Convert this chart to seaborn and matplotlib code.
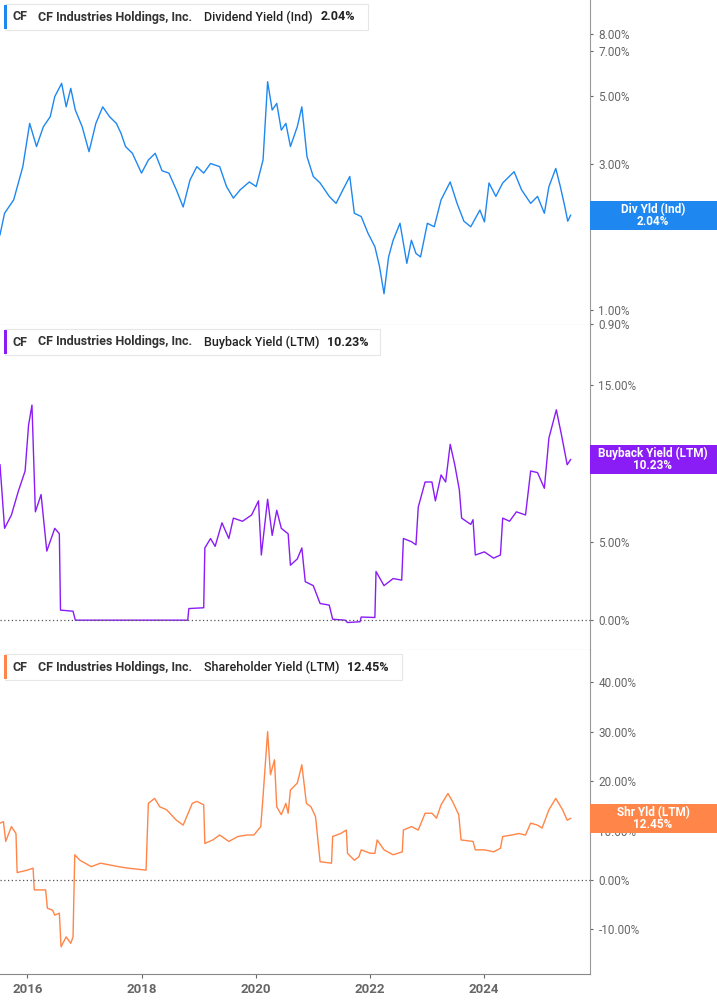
import numpy as np
import pandas as pd
import seaborn as sns
import matplotlib.pyplot as plt
from matplotlib.patches import Rectangle

# Dividend yield (%), log scale panel
div_t = [2015.52, 2015.60, 2015.76, 2015.92, 2016.04, 2016.16, 2016.28, 2016.40, 2016.48, 2016.60,
         2016.68, 2016.76, 2016.84, 2016.96, 2017.08, 2017.20, 2017.32, 2017.44, 2017.56, 2017.64,
         2017.72, 2017.84, 2018.00, 2018.12, 2018.24, 2018.36, 2018.48, 2018.61, 2018.73, 2018.85,
         2018.97, 2019.09, 2019.21, 2019.37, 2019.49, 2019.61, 2019.73, 2019.89, 2020.01, 2020.13,
         2020.21, 2020.29, 2020.37, 2020.45, 2020.53, 2020.61, 2020.73, 2020.81, 2020.90, 2021.01,
         2021.13, 2021.29, 2021.41, 2021.53, 2021.65, 2021.73, 2021.85, 2021.97, 2022.09, 2022.17,
         2022.25, 2022.33, 2022.41, 2022.53, 2022.65, 2022.73, 2022.81, 2022.89, 2023.01, 2023.13,
         2023.25, 2023.41, 2023.53, 2023.65, 2023.77, 2023.93, 2024.01, 2024.09, 2024.21, 2024.33,
         2024.53, 2024.66, 2024.82, 2024.94, 2025.06, 2025.14, 2025.26, 2025.34, 2025.42, 2025.47,
         2025.52]
div_v = [1.76, 2.07, 2.29, 2.94, 4.07, 3.42, 3.97, 4.28, 4.98, 5.50,
         4.61, 5.30, 4.50, 3.97, 3.29, 4.07, 4.61, 4.28, 4.07, 3.78,
         3.42, 3.25, 2.80, 3.09, 3.25, 2.85, 2.80, 2.47, 2.17, 2.66,
         2.94, 2.80, 3.01, 2.94, 2.53, 2.32, 2.47, 2.62, 2.53, 3.09,
         5.57, 4.50, 4.73, 3.87, 4.07, 3.42, 3.97, 4.61, 3.17, 2.73,
         2.60, 2.35, 2.23, 2.47, 2.73, 2.07, 2.02, 1.78, 1.61, 1.39,
         1.13, 1.49, 1.69, 1.92, 1.42, 1.69, 1.53, 1.49, 1.92, 1.87,
         2.29, 2.62, 2.23, 1.95, 1.87, 2.12, 1.94, 2.60, 2.35, 2.60,
         2.83, 2.47, 2.23, 2.35, 2.07, 2.53, 2.90, 2.53, 2.17, 1.95,
         2.04]

# Buyback yield LTM (%)
bb_t = [2015.52, 2015.60, 2015.72, 2015.84, 2015.96, 2016.02, 2016.08, 2016.14, 2016.24, 2016.34,
        2016.48, 2016.56, 2016.58, 2016.80, 2016.84, 2018.81, 2018.83, 2019.09, 2019.11, 2019.21,
        2019.29, 2019.41, 2019.53, 2019.61, 2019.77, 2019.93, 2020.05, 2020.10, 2020.21, 2020.29,
        2020.37, 2020.45, 2020.57, 2020.61, 2020.73, 2020.81, 2020.87, 2021.01, 2021.13, 2021.29,
        2021.35, 2021.57, 2021.61, 2021.83, 2021.85, 2022.09, 2022.11, 2022.25, 2022.41, 2022.56,
        2022.59, 2022.73, 2022.81, 2022.85, 2022.97, 2023.09, 2023.15, 2023.25, 2023.33, 2023.41,
        2023.49, 2023.57, 2023.61, 2023.77, 2023.81, 2023.85, 2024.01, 2024.17, 2024.29, 2024.33,
        2024.45, 2024.57, 2024.73, 2024.82, 2024.94, 2025.06, 2025.14, 2025.27, 2025.36, 2025.46,
        2025.52]
bb_v = [9.9, 5.85, 6.7, 8.2, 9.5, 12.4, 13.7, 6.9, 8.0, 4.4,
        5.85, 5.5, 0.64, 0.57, 0.0, 0.0, 0.74, 0.79, 4.6, 5.2,
        4.7, 6.2, 5.2, 6.5, 6.3, 6.7, 7.6, 4.15, 7.7, 5.4,
        7.0, 5.85, 5.5, 3.5, 3.9, 4.6, 2.45, 2.2, 1.06, 0.96,
        0.06, 0.0, -0.15, -0.1, 0.2, 0.17, 3.1, 2.2, 2.65, 2.55,
        5.2, 5.0, 4.8, 7.2, 8.8, 8.8, 7.6, 9.25, 8.8, 11.2,
        9.9, 8.3, 6.5, 6.1, 6.4, 4.15, 4.35, 3.95, 4.15, 6.5,
        6.3, 6.9, 6.7, 9.5, 9.4, 8.4, 11.6, 13.4, 11.8, 9.9,
        10.23]

# Shareholder yield LTM (%)
sh_t = [2015.52, 2015.58, 2015.62, 2015.72, 2015.80, 2015.82, 2016.00, 2016.10, 2016.12, 2016.32,
        2016.35, 2016.44, 2016.48, 2016.56, 2016.59, 2016.68, 2016.76, 2016.80, 2016.83, 2016.92,
        2017.12, 2017.28, 2017.60, 2017.76, 2018.08, 2018.12, 2018.23, 2018.32, 2018.44, 2018.61,
        2018.73, 2018.89, 2018.97, 2019.09, 2019.11, 2019.25, 2019.37, 2019.53, 2019.69, 2019.85,
        2019.97, 2020.09, 2020.13, 2020.21, 2020.26, 2020.33, 2020.37, 2020.45, 2020.53, 2020.57,
        2020.61, 2020.73, 2020.81, 2020.89, 2020.97, 2021.05, 2021.13, 2021.33, 2021.35, 2021.49,
        2021.59, 2021.61, 2021.73, 2021.81, 2021.85, 2022.01, 2022.09, 2022.13, 2022.25, 2022.41,
        2022.57, 2022.59, 2022.73, 2022.85, 2022.97, 2023.09, 2023.17, 2023.25, 2023.37, 2023.45,
        2023.56, 2023.60, 2023.81, 2023.85, 2024.01, 2024.17, 2024.29, 2024.33, 2024.49, 2024.61,
        2024.73, 2024.82, 2024.94, 2025.02, 2025.14, 2025.26, 2025.38, 2025.46, 2025.52]
sh_v = [11.5, 11.8, 7.8, 10.8, 9.4, 1.5, 2.0, 2.4, -2.0, -2.0,
        -5.7, -6.1, -7.1, -6.7, -13.5, -11.5, -12.8, -11.5, 5.1, 4.0,
        2.7, 3.4, 2.7, 2.4, 2.0, 15.5, 16.5, 14.8, 14.2, 12.1,
        11.1, 15.5, 15.9, 15.2, 7.4, 8.1, 9.1, 7.8, 8.8, 9.1,
        9.1, 10.8, 16.9, 30.0, 21.3, 24.3, 14.8, 13.2, 15.5, 13.5,
        18.2, 19.6, 23.3, 15.5, 14.8, 12.8, 3.7, 3.4, 8.8, 9.4,
        10.1, 5.4, 4.0, 4.7, 6.1, 5.4, 5.4, 8.1, 6.1, 5.1,
        5.7, 10.1, 10.8, 10.1, 13.5, 13.5, 12.5, 15.2, 17.5, 15.9,
        13.2, 8.1, 7.8, 6.1, 6.1, 5.7, 6.4, 8.8, 9.1, 9.4,
        9.1, 11.5, 11.1, 10.5, 14.2, 16.5, 14.2, 12.1, 12.45]

year_ticks = [2016, 2018, 2020, 2022, 2024]

panels = [
    dict(t=div_t, v=div_v, color="#1E88F0", title="Dividend Yield (Ind)", last="2.04%",
         tag="Div Yld (Ind)", log=True, ylim=(0.893, 10.3),
         ticks=[0.9, 1, 2, 3, 5, 7, 8], zero=False),
    dict(t=bb_t, v=bb_v, color="#8A1CF5", title="Buyback Yield (LTM)", last="10.23%",
         tag="Buyback Yield (LTM)", log=False, ylim=(-1.9, 18.8),
         ticks=[0, 5, 10, 15], zero=True),
    dict(t=sh_t, v=sh_v, color="#FF8548", title="Shareholder Yield (LTM)", last="12.45%",
         tag="Shr Yld (LTM)", log=False, ylim=(-19.0, 46.5),
         ticks=[-10, 0, 10, 20, 30, 40], zero=True),
]

W, H = 717, 1005
fig = plt.figure(figsize=(W / 100, H / 100), dpi=100)
plt.rcParams["font.family"] = "Roboto"
grey = "#666666"
bounds = [(0, 325), (325, 650), (650, 974)]

for i, (p, (top, bot)) in enumerate(zip(panels, bounds)):
    ax = fig.add_axes([0, 1 - bot / H, 590 / W, (bot - top) / H])
    df = pd.DataFrame({"t": p["t"], "v": p["v"]})
    sns.lineplot(data=df, x="t", y="v", ax=ax, color=p["color"], linewidth=1.0)
    ax.set_xlim(2015.52, 2025.86)
    if p["log"]:
        ax.set_yscale("log")
    ax.set_ylim(*p["ylim"])
    ax.yaxis.tick_right()
    ax.set_yticks(p["ticks"])
    ax.set_yticklabels([f"{x:.2f}%" for x in p["ticks"]])
    ax.yaxis.set_minor_locator(plt.NullLocator())
    ax.tick_params(axis="y", colors=grey, labelsize=8.5, length=2, width=0.8, pad=4)
    ax.set_xlabel("")
    ax.set_ylabel("")
    for s in ["top", "left"]:
        ax.spines[s].set_visible(False)
    ax.spines["right"].set_color("#999999")
    ax.spines["bottom"].set_color("#bbbbbb")
    if p["zero"]:
        ax.axhline(0, color="#555555", linestyle=(0, (1, 2)), linewidth=0.9)
    if i == 2:
        ax.set_xticks(year_ticks)
        ax.set_xticklabels([str(y) for y in year_ticks])
        ax.tick_params(axis="x", colors=grey, labelsize=9.5, length=3)
        for lab in ax.get_xticklabels():
            lab.set_fontweight("bold")
        ax.spines["bottom"].set_color("#888888")
    else:
        ax.set_xticks([])

    # legend chip at top left
    lw = [368, 380, 402][i]
    fig.patches.append(Rectangle((5 / W, 1 - (top + 30) / H), (lw - 5) / W, 26 / H,
                                 transform=fig.transFigure, facecolor="white",
                                 edgecolor="#e6e6e6", linewidth=0.8))
    fig.patches.append(Rectangle((4 / W, 1 - (top + 29) / H), 3 / W, 24 / H,
                                 transform=fig.transFigure, facecolor=p["color"]))
    ty = 1 - (top + 17) / H
    fig.text(13 / W, ty, "CF", fontsize=9, fontweight="bold", color="#333333", va="center")
    fig.text(38 / W, ty, "CF Industries Holdings, Inc.", fontsize=9, fontweight="bold",
             color="#333333", va="center")
    t1 = fig.text(204 / W, ty, p["title"], fontsize=9, fontweight="medium",
                  color="#222222", va="center")
    fig.canvas.draw()
    bb = t1.get_window_extent()
    fig.text((bb.x1 + 8) / W, ty, p["last"], fontsize=9, fontweight="bold",
             color="#222222", va="center")

    # right value tag
    last_v = p["v"][-1]
    yd = ax.transData.transform((2025.0, last_v))[1]
    fig.patches.append(Rectangle((590 / W, (yd - 14.5) / H), 127 / W, 29 / H,
                                 transform=fig.transFigure, facecolor=p["color"]))
    fig.text(653 / W, (yd + 6) / H, p["tag"], fontsize=8.5, fontweight="bold",
             color="white", ha="center", va="center")
    fig.text(653 / W, (yd - 6) / H, p["last"], fontsize=8.5, fontweight="bold",
             color="white", ha="center", va="center")

fig.savefig("out.png", dpi=100)
